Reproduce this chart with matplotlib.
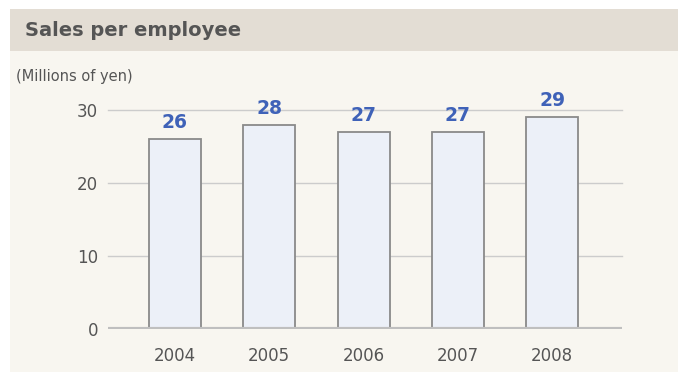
import matplotlib
matplotlib.use('Agg')
import matplotlib.pyplot as plt
from matplotlib.patches import Rectangle

years = ['2004', '2005', '2006', '2007', '2008']
sales = [26, 28, 27, 27, 29]
y_ticks = [0, 10, 20, 30]

W, H = 678, 372
fig = plt.figure(figsize=(W / 100, H / 100), dpi=100)
fig.patch.set_facecolor('white')

# panel body and header band
fig.patches.append(Rectangle((10 / W, 0), 1, 1 - 51 / H, transform=fig.transFigure,
                             facecolor='#f8f6f0', edgecolor='none', zorder=-10))
fig.patches.append(Rectangle((10 / W, 1 - 51 / H), 1, 42 / H, transform=fig.transFigure,
                             facecolor='#e3ddd4', edgecolor='none', zorder=-10))
fig.text(25 / W, 1 - 31 / H, 'Sales per employee', fontsize=14, fontweight='bold',
         color='#555555', va='center', ha='left')
fig.text(16 / W, 1 - 76 / H, '(Millions of yen)', fontsize=10.5, color='#555555',
         va='center', ha='left')

left, right, top, bottom = 108, 622, 110, 329
ax = fig.add_axes([left / W, 1 - bottom / H, (right - left) / W, (bottom - top) / H])
ax.set_facecolor('none')

x = range(len(years))
ax.bar(x, sales, width=0.55, color='#ecf0f8', edgecolor='#8a8a8a', linewidth=1.3, zorder=3)
for xi, v in zip(x, sales):
    ax.annotate(str(v), (xi, v), xytext=(0, 5), textcoords='offset points',
                ha='center', va='bottom', fontsize=13.5, fontweight='bold',
                color='#3f62b8', zorder=4, annotation_clip=False)

ax.set_xlim(-0.71, 4.74)
ax.set_ylim(0, 30)
ax.set_yticks(y_ticks)
ax.set_xticks(list(x))
ax.set_xticklabels(years)
for yt in y_ticks[1:]:
    ax.axhline(yt, color='#cccccc', linewidth=1, zorder=1, clip_on=False)
ax.axhline(0, color='#bfbfbf', linewidth=3, zorder=4)

for s in ax.spines.values():
    s.set_visible(False)
ax.tick_params(length=0, colors='#555555', labelsize=12)
ax.tick_params(axis='y', pad=7)
ax.tick_params(axis='x', pad=13)

fig.savefig('out.png', dpi=100, facecolor=fig.get_facecolor())
